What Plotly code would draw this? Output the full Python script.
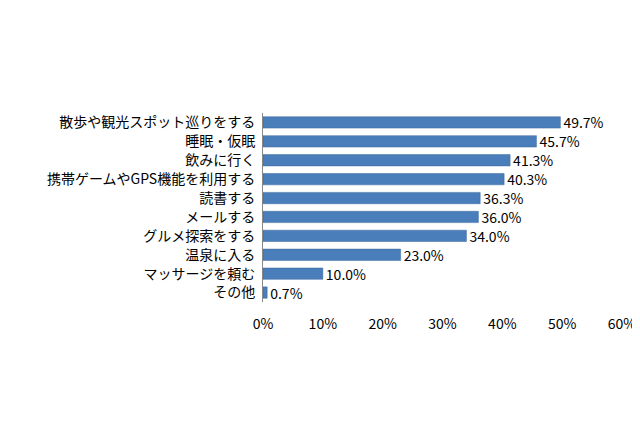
import plotly.graph_objects as go

categories = ["散歩や観光スポット巡りをする", "睡眠・仮眠", "飲みに行く", "携帯ゲームやGPS機能を利用する",
              "読書する", "メールする", "グルメ探索をする", "温泉に入る", "マッサージを頼む", "その他"]
values = [49.7, 45.7, 41.3, 40.3, 36.3, 36.0, 34.0, 23.0, 10.0, 0.7]
tick_vals = [0, 10, 20, 30, 40, 50, 60]
tick_text = [f"{v}%" for v in tick_vals]

fig = go.Figure(go.Bar(
    x=values, y=categories, orientation="h",
    marker=dict(color="#4a7ebb", line=dict(color="#3a669a", width=0.5)),
    width=0.6,
    text=[f"{v:.1f}%" for v in values], textposition="outside",
    textfont=dict(color="black", size=14), cliponaxis=False, constraintext="none",
))
fig.update_layout(
    width=640, height=426, plot_bgcolor="white", paper_bgcolor="white",
    margin=dict(l=255, r=23, t=105, b=132),
    font=dict(family="Noto Sans CJK JP, serif", size=14, color="black"),
    showlegend=False, bargap=0.4,
)
fig.update_yaxes(autorange="reversed", showline=True, linecolor="#888", ticks="", ticklabelstandoff=4)
fig.update_xaxes(range=[0, 60], tickvals=tick_vals, ticktext=tick_text, showgrid=False,
                 zeroline=False, showline=False, ticklabelstandoff=12)
fig.write_html("out.html")
